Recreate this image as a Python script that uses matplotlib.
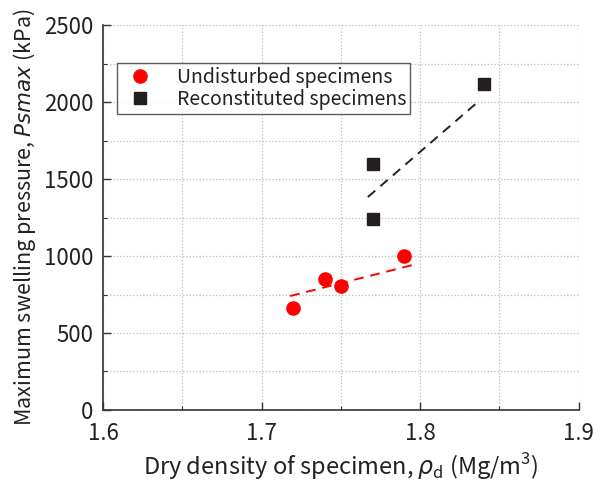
import matplotlib
matplotlib.use('Agg')
import matplotlib.pyplot as plt
from matplotlib.ticker import MultipleLocator

plt.rcParams['font.family'] = ['Noto Sans CJK JP', 'DejaVu Sans']
plt.rcParams['mathtext.fontset'] = 'custom'
plt.rcParams['mathtext.it'] = 'DejaVu Sans:italic'
plt.rcParams['mathtext.rm'] = 'Noto Sans CJK JP'

# data
und_density = [1.72, 1.74, 1.75, 1.79]
und_pressure = [665, 850, 805, 1000]
rec_density = [1.77, 1.77, 1.84]
rec_pressure = [1600, 1240, 2120]

# trend lines (end points)
und_fit_x = [1.718, 1.795]
und_fit_y = [740, 941]
rec_fit_x = [1.767, 1.837]
rec_fit_y = [1383, 2006]

fig = plt.figure(figsize=(5.93, 4.84), dpi=100)
ax = fig.add_axes([0.1737, 0.1529, 0.8023, 0.7954])

ax.plot(und_fit_x, und_fit_y, '--', color='red', lw=1.4, dashes=(5, 3.5))
ax.plot(rec_fit_x, rec_fit_y, '--', color='#222222', lw=1.4, dashes=(5, 3.5))
ax.plot(und_density, und_pressure, 'o', color='red', ms=9.5, ls='none',
        label='Undisturbed specimens')
ax.plot(rec_density, rec_pressure, 's', color='#231f20', ms=8.5, ls='none',
        label='Reconstituted specimens')

ax.set_xlim(1.6, 1.9)
ax.set_ylim(0, 2500)
ax.xaxis.set_major_locator(MultipleLocator(0.1))
ax.xaxis.set_minor_locator(MultipleLocator(0.05))
ax.yaxis.set_major_locator(MultipleLocator(500))
ax.yaxis.set_minor_locator(MultipleLocator(250))
ax.xaxis.set_major_formatter(plt.FuncFormatter(lambda v, p: '%.1f' % v))

ax.grid(True, which='both', color='#bbbbbb', ls=':', lw=0.9)
ax.set_axisbelow(True)
for s in ['top', 'right']:
    ax.spines[s].set_visible(False)
for s in ['left', 'bottom']:
    ax.spines[s].set_color('#333333')
    ax.spines[s].set_linewidth(1.2)
ax.tick_params(which='major', direction='in', length=6, width=1, colors='#333333',
               labelsize=16, labelcolor='#222222')
ax.tick_params(axis='x', which='major', pad=9)
ax.tick_params(axis='y', which='major', pad=7)
ax.tick_params(which='minor', direction='in', length=3, width=0.8, colors='#333333')

ax.set_xlabel(r'Dry density of specimen, $\mathit{\rho}_{\mathrm{d}}$ (Mg/m$^3$)',
              fontsize=17, color='#222222', labelpad=4)
ax.set_ylabel(r'Maximum swelling pressure, $\mathit{Psmax}$ (kPa)',
              fontsize=15.5, color='#222222', labelpad=4)

leg = ax.legend(loc='upper left', bbox_to_anchor=(0.029, 0.901), fontsize=14,
                frameon=True, fancybox=False, edgecolor='#333333',
                borderpad=0.2, handletextpad=0.9, labelspacing=0.05,
                borderaxespad=0)
leg.get_frame().set_linewidth(1.0)
for t in leg.get_texts():
    t.set_color('#222222')

fig.savefig('out.png', dpi=100)
